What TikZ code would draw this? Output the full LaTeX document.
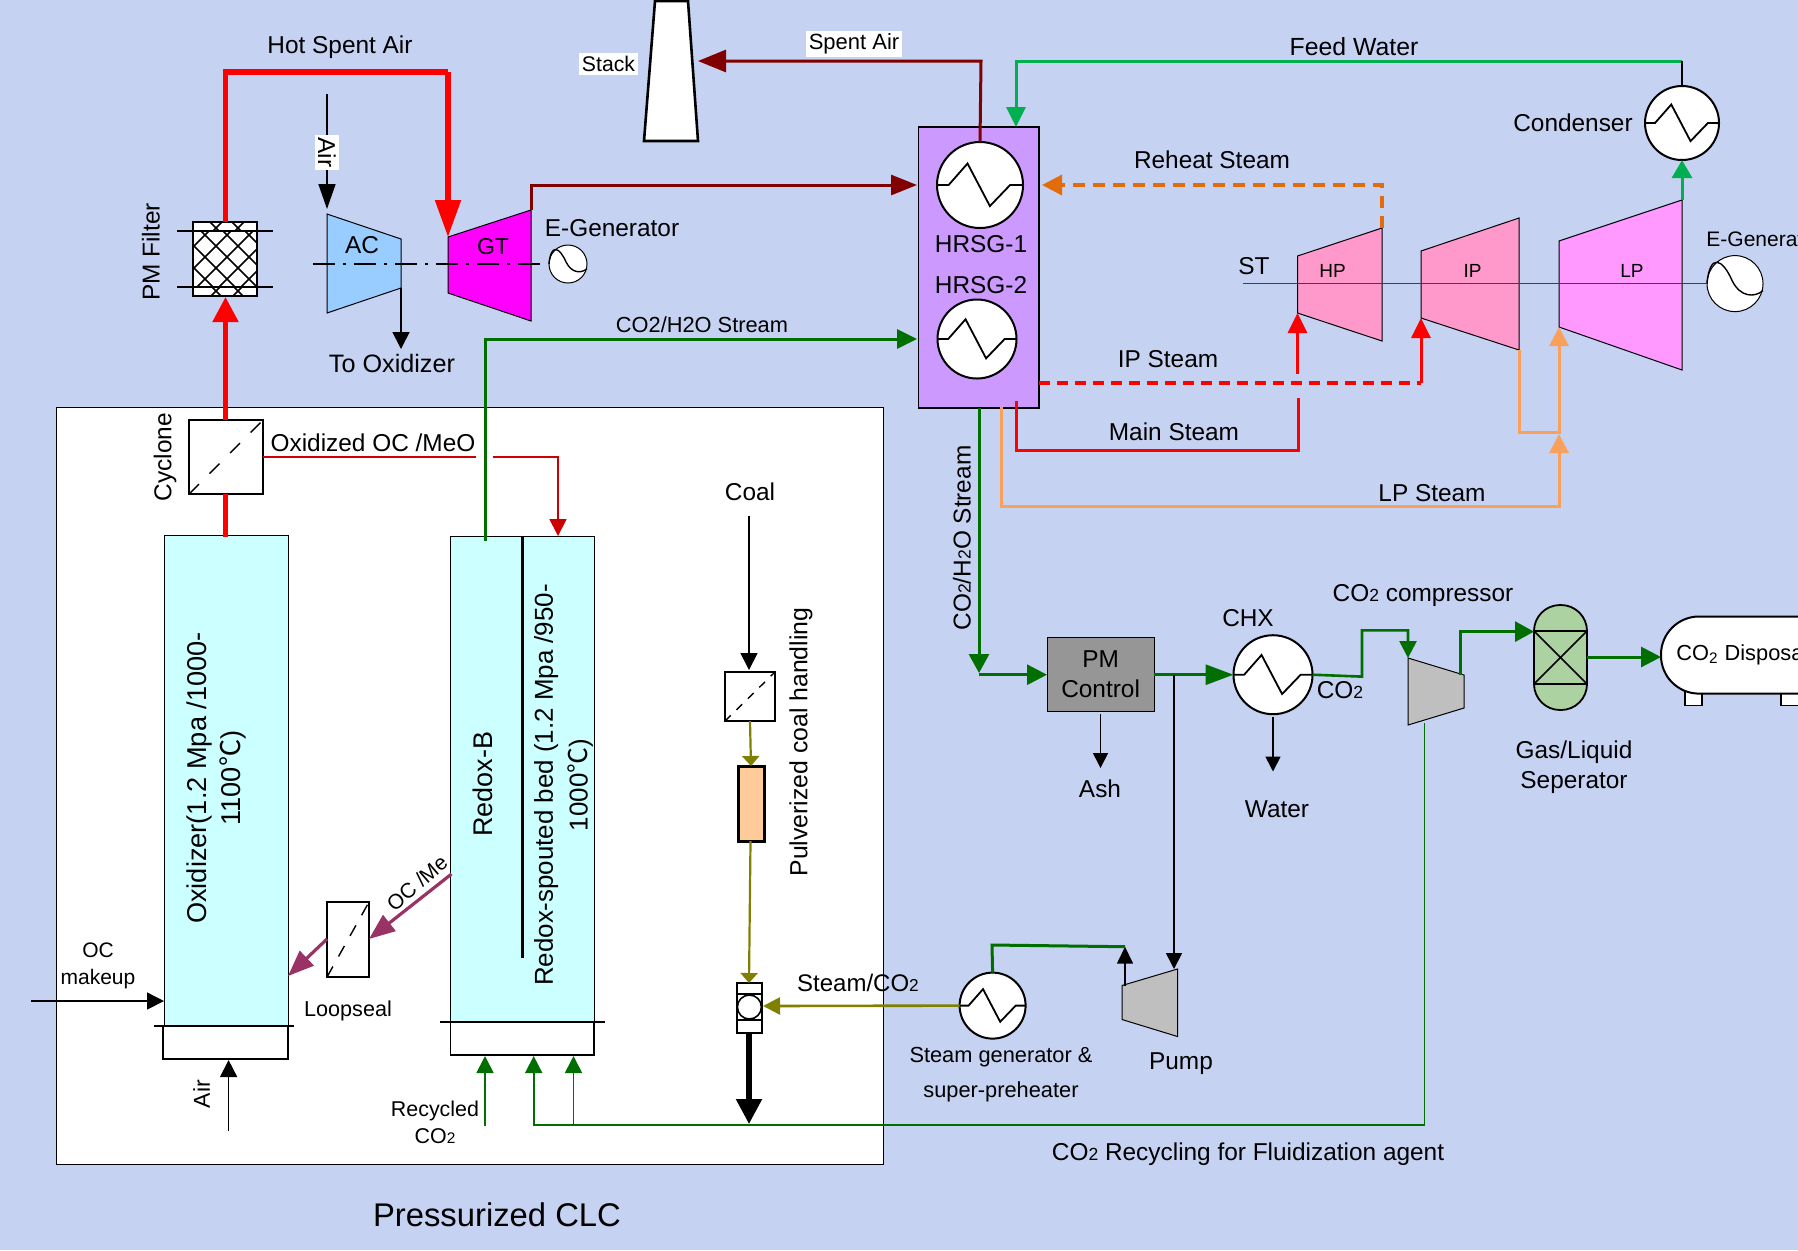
\documentclass[tikz,border=0pt]{standalone}
\usepackage{fontspec}
\setmainfont{Liberation Sans}
\newfontfamily\cjk{Noto Sans CJK SC}
\usetikzlibrary{arrows.meta,fit,shapes.geometric,calc}
\definecolor{bgc}{HTML}{C6D2F1}
\definecolor{gdark}{HTML}{006F00}
\definecolor{gfeed}{HTML}{00B050}
\definecolor{dred}{HTML}{800000}
\definecolor{orng}{HTML}{F9A15A}
\definecolor{reheat}{HTML}{E36C0A}
\definecolor{olv}{HTML}{808000}
\definecolor{plum}{HTML}{993366}
\definecolor{peach}{HTML}{FFCC99}
\definecolor{hppink}{HTML}{FF99CC}
\definecolor{lppink}{HTML}{FF99FF}
\definecolor{comp}{HTML}{BFBFBF}
\definecolor{hviolet}{HTML}{CC99FF}
\definecolor{sepgreen}{HTML}{ABD2A0}
\definecolor{acblue}{HTML}{99CCFF}
\definecolor{react}{HTML}{CCFFFF}
\definecolor{gtmag}{HTML}{FF00FF}
\newcommand\smtwo{\scalebox{.72}{2}}
\newcommand\degc{{\cjk ℃}}
\tikzset{
 txt/.style={inner sep=0pt,font=\fontsize{#1pt}{#1pt}\selectfont},
 txt/.default=12.2,
 wbox/.style={fill=white,inner sep=1.5pt},
 box/.style={draw=black,inner sep=0pt,outer sep=0pt,line width=.8pt},
 hxn/.style={circle,draw=black,fill=white,inner sep=0pt,outer sep=0pt,line width=1pt},
 zig/.style={draw=black,line width=.9pt,line join=miter},
 hd/.style 2 args={-{Triangle[length=#1pt,width=#2pt]}},
 turb/.style={draw=black,line width=.5pt},
 shaft/.style={draw=black,line width=.7pt,dash pattern=on 11pt off 4pt on 1.5pt off 4pt},
 dg/.style={draw=black,line width=.7pt},
}
\newcommand\hx[4]{%
 \node[hxn,minimum size=#4pt] (#1) at (#2,#3) {};
 \draw[zig] (#1.west) -- ({#2-.73*#4},#3) -- ({#2-.29*#4},{#3-.5*#4}) -- ({#2+.23*#4},{#3+.49*#4}) -- ({#2+.7*#4},#3) -- (#1.east);}
\newcommand\gen[4]{%
 \node[hxn,line width=.5pt,minimum size=#4pt] (#1) at (#2,#3) {};
 \draw[black,line width=.7pt] (#1.west) .. controls ({#2-.9*#4},{#3-1.1*#4}) and ({#2-.45*#4},{#3-.9*#4}) .. ({#2-.1*#4},{#3-.1*#4}) .. controls ({#2+.2*#4},{#3+.5*#4}) and ({#2+.7*#4},{#3+.5*#4}) .. ({#2+#4},{#3+.25*#4});}
\newcommand\bx[6]{%
 \coordinate (#1-a) at (#3,#4); \coordinate (#1-b) at (#5,#6);
 \node[box,fit=(#1-a)(#1-b),#2] (#1) {};}
\begin{document}
\begin{tikzpicture}[x=.5pt,y=-.5pt]
\clip (0,0) rectangle (1798,1250);
\fill[bgc] (0,0) rectangle (1798,1250);
% big white box
\bx{clc}{fill=white,line width=.5pt}{56}{407}{883}{1164}
% named points
\coordinate (hsaR) at (448,72);
\coordinate (gtTL) at (448,237);\coordinate (gtTR) at (531,210);\coordinate (gtBR) at (531,321);\coordinate (gtBL) at (448,293);
\coordinate (acTL) at (327,214);\coordinate (acTR) at (401,239);\coordinate (acBR) at (401,288);\coordinate (acBL) at (327,313);
\coordinate (airS) at (327,94);\coordinate (airE) at (327,209);\coordinate (toOx) at (401,349);
\coordinate (hpTL) at (1297.5,256);\coordinate (hpTR) at (1382,228);\coordinate (hpBR) at (1382,341);\coordinate (hpBL) at (1297.5,313);
\coordinate (ipTL) at (1421,251);\coordinate (ipTR) at (1519,218);\coordinate (ipBR) at (1519,350);\coordinate (ipBL) at (1421,318);
\coordinate (lpTL) at (1559,241);\coordinate (lpTR) at (1682,200);\coordinate (lpBR) at (1682,370);\coordinate (lpBL) at (1559,327);
\coordinate (cpTL) at (1408,658);\coordinate (cpTR) at (1464,675);\coordinate (cpBR) at (1464,708);\coordinate (cpBL) at (1408,725);
\coordinate (pmTL) at (1122,985.5);\coordinate (pmTR) at (1177.5,969);\coordinate (pmBR) at (1177.5,1036.5);\coordinate (pmBL) at (1122,1019.5);
\coordinate (stTL) at (655,1);\coordinate (stTR) at (688,1);\coordinate (stBR) at (698,141);\coordinate (stBL) at (644,141);\coordinate (stIn) at (698,61);
% reactors
\bx{oxi}{fill=react,line width=.5pt}{164}{535}{288}{1026}
\bx{oxb}{fill=white}{163}{1026}{288}{1059}
\bx{red}{fill=react,line width=.5pt}{450.5}{536}{594.4}{1021.7}
\bx{reb}{fill=white}{450.5}{1021.7}{594}{1055}
\coordinate (oxgL) at (154,1026);\coordinate (oxgR) at (294,1026);
\coordinate (rdgL) at (440,1021.7);\coordinate (rdgR) at (604.6,1021.7);
\draw[black,line width=1pt] (oxgL) -- (oxgR);
\draw[black,line width=1pt] (rdgL) -- (rdgR);
\coordinate (divT) at (522.4,536);\coordinate (divB) at (522.4,958);
\draw[black,line width=1.8pt] (divT) -- (divB);
% cyclone, loopseal, coal
\bx{cyc}{fill=white}{189}{420}{263}{494}
\draw[dg,dash pattern=on 7pt off 7.5pt] (cyc.south west) -- (cyc.north east);
\bx{loop}{fill=white}{327}{902}{369}{977}
\draw[dg,dash pattern=on 6pt off 5.8pt] (loop.south west) -- (loop.north east);
\bx{csq}{fill=white}{725}{672}{775}{721}
\draw[dg,dash pattern=on 4pt off 4pt] (csq.south west) -- (csq.north east);
\bx{orect}{line width=1.5pt,fill=peach}{738}{766}{764}{841}
\bx{feed}{fill=white,line width=1pt}{736.7}{983}{762}{1033}
\coordinate (fdL1) at (736.7,994);\coordinate (fdR1) at (762,994);\coordinate (fdL2) at (736.7,1020);\coordinate (fdR2) at (762,1020);
\draw[black,line width=1pt] (fdL1) -- (fdR1) -- (fdR2) -- (fdL2) -- cycle;
\node[hxn,minimum size=12pt,line width=.8pt] (fball) at (749.4,1007) {};
% filter
\bx{filter}{fill=white}{193}{222}{257}{296}
\begin{scope}
 \clip (193,222) rectangle (257,296);
 \foreach \i in {-6,...,8} {
  \draw[black,line width=.85pt] ({192+\i*22},222) -- ++(90,90);
  \draw[black,line width=.85pt] ({218+\i*22},222) -- ++(-90,90);
 }
\end{scope}
\draw[black,line width=1.1pt] (193,222) rectangle (257,296);
\coordinate (fL1) at (177,231);\coordinate (fR1) at (273,231);\coordinate (fL2) at (177,287);\coordinate (fR2) at (273,287);
\fill[white] (194,223) rectangle (256,231);
\fill[white] (194,287) rectangle (256,295);
\begin{scope}
 \clip (193,222) rectangle (257,231);
 \foreach \i in {1,2} {\draw[black,line width=.85pt] ({194+\i*22-6},222) -- ++(12,12);\draw[black,line width=.85pt] ({194+\i*22+6},222) -- ++(-12,12);}
\end{scope}
\begin{scope}
 \clip (193,287) rectangle (257,296);
 \foreach \i in {1,2} {\draw[black,line width=.85pt] ({194+\i*22-6},285) -- ++(12,12);\draw[black,line width=.85pt] ({194+\i*22+6},285) -- ++(-12,12);}
\end{scope}
\draw[black,line width=.8pt] (fL1) -- (fR1) (fL2) -- (fR2);
% turbines
\draw[turb,fill=acblue] (acTL) -- (acTR) -- (acBR) -- (acBL) -- cycle;
\draw[turb,fill=gtmag] (gtTL) -- (gtTR) -- (gtBR) -- (gtBL) -- cycle;
\draw[turb,fill=hppink] (hpTL) -- (hpTR) -- (hpBR) -- (hpBL) -- cycle;
\draw[turb,fill=hppink] (ipTL) -- (ipTR) -- (ipBR) -- (ipBL) -- cycle;
\draw[turb,fill=lppink] (lpTL) -- (lpTR) -- (lpBR) -- (lpBL) -- cycle;
\draw[turb,fill=comp] (cpTL) -- (cpTR) -- (cpBR) -- (cpBL) -- cycle;
\draw[turb,fill=comp] (pmTL) -- (pmTR) -- (pmBR) -- (pmBL) -- cycle;
\draw[black,line width=1.3pt,fill=white] (stTL) -- (stTR) -- (stBR) -- (stBL) -- cycle;
% HRSG
\bx{hrsg}{fill=hviolet,line width=.6pt}{918.6}{127}{1039}{408}
\hx{h1}{980}{185}{43}
\hx{h2}{977}{339}{39.5}
\hx{cond}{1682}{123}{37}
\hx{chx}{1273}{674.7}{39.5}
\hx{sg}{992.6}{1005.6}{33}
\gen{g1}{568}{264}{19}
\gen{g2}{1735}{283.6}{28}
% shafts
\coordinate (shA) at (313,264);\coordinate (shB) at (542,264);
\draw[shaft] (shA) -- (shB);
\coordinate (stA) at (1243,283.6);
\draw[black!75,line width=.7pt] (stA) -- (g2.west);
% PM control, separator, disposal
\bx{pmc}{fill=black!41,line width=.4pt}{1047}{637}{1154}{711.5}
\bx{sep}{fill=sepgreen,rounded corners=13pt,line width=.9pt}{1534}{605}{1587}{710}
\coordinate (spA) at (1534,631);\coordinate (spB) at (1587,631);\coordinate (spC) at (1587,684);\coordinate (spD) at (1534,684);
\draw[black,line width=.8pt] (spA) -- (spB) -- (spC) -- (spD) -- cycle (spA) -- (spC) (spB) -- (spD);
\bx{lega}{fill=white,line width=.9pt}{1685}{690}{1702}{705.5}
\bx{legb}{fill=white,line width=.9pt}{1781}{690}{1810}{705.5}
\bx{disp}{fill=white,rounded corners=19pt,line width=1pt}{1661}{616.5}{1880}{693.6}
% ---- connectors ----
\begin{scope}[line width=2.6pt,red]
 \coordinate (oxiT) at (225.5,537);\coordinate (cycT) at (225.5,420);\coordinate (cycB) at (225.5,494);\coordinate (filB) at (225.5,297);\coordinate (filT) at (225.5,222);\coordinate (hsaL) at (225.5,72);
 \draw (cycB) -- (oxiT);
 \draw[hd={12.5}{12.5}] (cycT) -- (filB);
 \draw (filT) -- (hsaL) -- (hsaR);
 \draw[hd={18.5}{12.5}] (hsaR) -- (gtTL);
\end{scope}
\draw[black,line width=.8pt,hd={12.5}{8.5}] (airS) -- (airE);
\draw[black,line width=.8pt,hd={8.5}{8.5}] (acBR) -- (toOx);
\coordinate (drA) at (531,185);\coordinate (h1W) at (917,185);
\draw[dred,line width=1.5pt,hd={13}{10}] (gtTR) -- (drA) -- (h1W);
\coordinate (saT) at (981,61);
\draw[dred,line width=1.5pt,hd={14}{11}] (h1.north) -- (saT) -- (stIn);
\coordinate (fwL) at (1016,61);\coordinate (fwR) at (1682,61);\coordinate (fwE) at (1016,127);
\draw[gfeed,line width=1.5pt,hd={10}{9.5}] (fwR) -- (fwL) -- (fwE);
\draw[black,line width=1pt] (cond.north) -- (fwR);
\draw[gfeed,line width=1.5pt,hd={9}{10}] (lpTR) -- (cond.south);
\coordinate (rhC) at (1382,185);\coordinate (rhE) at (1042,185);
\draw[reheat,line width=1.7pt,dash pattern=on 6pt off 4pt,hd={10}{10}] (hpTR) -- (rhC) -- (rhE);
\coordinate (isA) at (1039,383);\coordinate (isB) at (1421,383);
\draw[red,line width=1.8pt,dash pattern=on 5.5pt off 3.5pt] (isA) -- (isB);
\draw[red,line width=1.5pt,hd={10}{9.5}] (isB) -- (ipBL);
\coordinate (msA) at (1016.4,400.6);\coordinate (msB) at (1016.4,450);\coordinate (msC) at (1298,450);\coordinate (msD) at (1298,398);\coordinate (msE) at (1297.5,373.6);
\draw[red,line width=1.5pt] (msA) -- (msB) -- (msC) -- (msD);
\draw[red,line width=1.5pt,hd={10}{9.5}] (msE) -- (hpBL);
\coordinate (lsA) at (1001,407);\coordinate (lsB) at (1001,506.4);\coordinate (lsC) at (1559,506.4);\coordinate (lsD) at (1559,434);
\draw[orng,line width=1.5pt,hd={9.5}{9.5}] (lsA) -- (lsB) -- (lsC) -- (lsD);
\coordinate (ilA) at (1519,432.4);\coordinate (ilB) at (1559,432.4);
\draw[orng,line width=1.5pt,hd={9.5}{9.5}] (ipBR) -- (ilA) -- (ilB) -- (lpBL);
% CO2/H2O top
\coordinate (cgA) at (485,541);\coordinate (cgB) at (485,339);\coordinate (cgC) at (917,339);
\draw[gdark,line width=1.5pt,hd={10}{9.5}] (cgA) -- (cgB) -- (cgC);
% oxidized OC red
\coordinate (ocA) at (475.6,457);\coordinate (ocB) at (493,457);\coordinate (ocC) at (558,457);\coordinate (ocD) at (558,536);
\draw[red!80!black,line width=.9pt] (cyc.east |- ocA) -- (ocA);
\draw[red!80!black,line width=.9pt,hd={8.5}{8.5}] (ocB) -- (ocC) -- (ocD);
% plum arrows
\coordinate (pmA) at (451.5,874);\coordinate (pmB) at (369,939);\coordinate (pmC) at (327,939);\coordinate (pmD) at (288,976);
\draw[plum,line width=1.6pt,hd={13}{10}] (pmA) -- (pmB);
\draw[plum,line width=1.6pt,hd={13}{10}] (pmC) -- (pmD);
% OC makeup, air
\coordinate (omA) at (31,1001);\coordinate (omB) at (164,1001);
\draw[black,line width=.8pt,hd={8.5}{8.5}] (omA) -- (omB);
\coordinate (aiA) at (228.6,1131);\coordinate (aiB) at (228.6,1060);
\draw[black,line width=.8pt,hd={8.5}{8.5}] (aiA) -- (aiB);
% coal
\coordinate (coA) at (749,516);\coordinate (coB) at (749,670);
\draw[black,line width=.8pt,hd={8.5}{8.5}] (coA) -- (coB);
\draw[olv,line width=1.1pt,hd={5}{8.5}] (csq.south) -- (orect.north);
\coordinate (olA) at (750.5,841);\coordinate (olB) at (749,983);
\draw[olv,line width=1.1pt,hd={5}{8.5}] (olA) -- (olB);
\coordinate (blA) at (749,1033);\coordinate (blB) at (749,1124);
\draw[black,line width=2.6pt,hd={12.5}{12.5}] (blA) -- (blB);
\coordinate (fdE) at (763,1006);
\draw[olv,line width=1.3pt,hd={8.5}{8.5}] (sg.west) -- (fdE);
% recycle
\coordinate (rcA) at (485,1126);\coordinate (rcB) at (485,1056);
\draw[gdark,line width=.9pt,hd={8.5}{8.5}] (rcA) -- (rcB);
\coordinate (rcC) at (1424.5,723);\coordinate (rcD) at (1424.5,1125);\coordinate (rcE) at (533.7,1125);\coordinate (rcF) at (533.7,1056);
\draw[gdark,line width=.9pt,hd={8.5}{8.5}] (rcC) -- (rcD) -- (rcE) -- (rcF);
\coordinate (rcG) at (573.5,1125);\coordinate (rcH) at (573.5,1056);
\draw[gdark,line width=.9pt,hd={8.5}{8.5}] (rcG) -- (rcH);
% lower right stream
\coordinate (lgA) at (979,408);\coordinate (lgB) at (979,673);\coordinate (lgC) at (979,674.7);
\draw[gdark,line width=1.5pt,hd={9.5}{10}] (lgA) -- (lgB);
\draw[gdark,line width=1.5pt,hd={10}{10}] (lgC) -- (pmc.west |- lgC);
\draw[gdark,line width=1.5pt,hd={14}{10}] (pmc.east |- lgC) -- (chx.west);
\coordinate (c2A) at (1362,676.6);\coordinate (c2B) at (1362,630.4);\coordinate (c2C) at (1408,630.4);
\draw[gdark,line width=1.3pt,hd={8.5}{8.5}] (chx.east) -- (c2A) -- (c2B) -- (c2C) -- (cpTL);
\coordinate (c3A) at (1460.5,675);\coordinate (c3B) at (1460.5,631.6);
\draw[gdark,line width=1.5pt,hd={9.5}{10}] (c3A) -- (c3B) -- (sep.west |- c3B);
\coordinate (c4) at (1587,657);
\draw[gdark,line width=1.5pt,hd={10}{10}] (c4) -- (disp.west |- c4);
% ash, water, pump
\coordinate (asA) at (1100.5,714);\coordinate (asB) at (1100.5,768);
\draw[black,line width=.8pt,hd={7.5}{7.5}] (asA) -- (asB);
\coordinate (waB) at (1273,771.5);\coordinate (waA) at (1273,717);
\draw[black,line width=.8pt,hd={7.5}{7.5}] (waA) -- (waB);
\coordinate (puA) at (1174,674.7);\coordinate (puB) at (1174,969);
\draw[black,line width=.8pt,hd={8}{8}] (puA) -- (puB);
\coordinate (prA) at (1125,985.5);\coordinate (prB) at (1125,946.7);
\draw[black,line width=.8pt,hd={8.5}{8}] (prA) -- (prB);
\coordinate (sgA) at (992,945);
\draw[gdark,line width=1.5pt] (sg.north) -- (sgA) -- (prB);
% ---- text ----
\node[txt] (t1) at (340,47) {Hot Spent Air};
\node[txt=10.6,wbox] (t2) at (608.5,64) {Stack};
\node[txt,wbox,rotate=-90] (t3) at (327,152.5) {Air};
\node[txt=12.6] (t4) at (392,363) {To Oxidizer};
\node[txt,rotate=90] (t5) at (151,252) {PM Filter};
\node[txt] (t6) at (362,245) {AC};
\node[txt=11.5] (t7) at (493,247) {GT};
\node[txt] (t8) at (612,228) {E-Generator};
\node[txt=10.9] (t9) at (702,325) {CO2/H2O Stream};
\node[txt,rotate=90] (t10) at (165,457) {Cyclone};
\node[txt] (t11) at (373,443) {Oxidized OC /MeO};
\node[txt=11,wbox] (t12) at (854,44) {Spent Air};
\node[txt=12.4] (t13) at (1354,47) {Feed Water};
\node[txt] (t14) at (1212,160) {Reheat Steam};
\node[txt] (t15) at (1573,123) {Condenser};
\node[txt] (t16) at (981,244) {HRSG-1};
\node[txt] (t17) at (981,285) {HRSG-2};
\node[txt] (t18) at (1254,266) {ST};
\node[txt=9.5] (t19) at (1332.6,271) {HP};
\node[txt=9.5] (t20) at (1472.5,271) {IP};
\node[txt=9.5] (t21) at (1632,271) {LP};
\node[txt=10.5,anchor=west] (t22) at (1706,239) {E-Generator};
\node[txt] (t23) at (1168,359) {IP Steam};
\node[txt] (t24) at (1174,432) {Main Steam};
\node[txt] (t25) at (1432,493) {LP Steam};
\node[txt=12.2,rotate=90] (t26) at (962,538) {CO\smtwo/H\smtwo O Stream};
\node[txt=13.6,rotate=90,align=center,font=\fontsize{13.6pt}{17pt}\selectfont] (t27) at (216.5,778) {Oxidizer(1.2 Mpa /1000-\\1100\degc)};
\node[txt=13.5,rotate=90] (t28) at (483,784) {Redox-B};
\node[txt=12.95,rotate=90,align=center,font=\fontsize{12.95pt}{17.3pt}\selectfont] (t29) at (563.5,785) {Redox-spouted bed (1.2 Mpa /950-\\1000\degc)};
\node[txt=12.4,rotate=90] (t30) at (801,742) {Pulverized coal handling};
\node[txt] (t31) at (750,492) {Coal};
\node[txt=10.5,rotate=41] (t32) at (417,883) {OC /Me};
\node[txt=10.8] (t33) at (348,1011) {Loopseal};
\node[txt=10.5,align=center,font=\fontsize{10.5pt}{13.5pt}\selectfont] (t34) at (98,966) {OC\\makeup};
\node[txt=11.5,rotate=90] (t35) at (201.5,1094) {Air};
\node[txt=10.7,align=center,font=\fontsize{10.7pt}{13.5pt}\selectfont] (t36) at (435,1122) {Recycled\\CO\smtwo};
\node[txt=12] (t37) at (858,983) {Steam/CO\smtwo};
\node[txt=10.9] (t38) at (1001,1057) {Steam generator \&};
\node[txt=10.9] (t39) at (1001,1092) {super-preheater};
\node[txt] (t40) at (1181,1064) {Pump};
\node[txt] (t41) at (1248,1154) {CO\smtwo{} Recycling for Fluidization agent};
\node[txt,align=center,font=\fontsize{12.2pt}{15pt}\selectfont] (t42) at (1100.6,674) {PM\\Control};
\node[txt] (t43) at (1100,788.5) {Ash};
\node[txt] (t44) at (1248,618) {CHX};
\node[txt] (t45) at (1340,690) {CO\smtwo};
\node[txt] (t46) at (1423,595) {CO\smtwo{} compressor};
\node[txt] (t47) at (1277,809) {Water};
\node[txt,align=center,font=\fontsize{12.2pt}{15pt}\selectfont] (t48) at (1574,767) {Gas/Liquid\\Seperator};
\node[txt=10.9,anchor=west] (t49) at (1676,655) {CO\textsubscript{2} Disposal};
\node[txt=16.4] (t50) at (497,1215) {Pressurized CLC};
\end{tikzpicture}
\end{document}
